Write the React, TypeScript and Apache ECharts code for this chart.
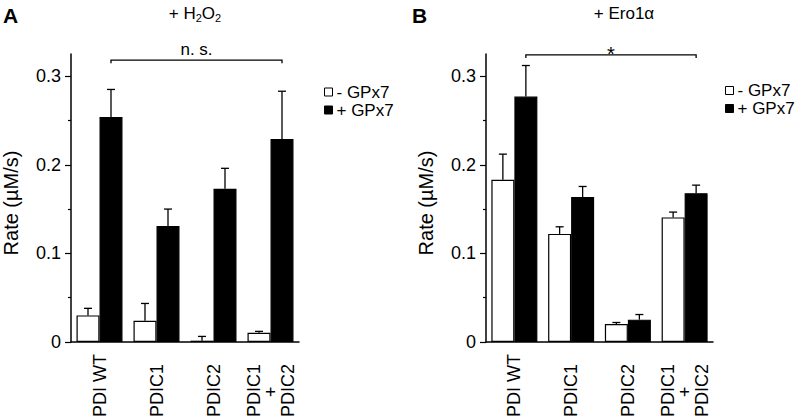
import React, { useEffect, useRef } from "react";
import * as echarts from "echarts";

const categories = ["PDI WT", "PDIC1", "PDIC2", "PDIC1\n+\nPDIC2"];
const seriesNames = ["- GPx7", "+ GPx7"];

// Panel A (+ H2O2)
const aMinus = [0.03, 0.024, 0.0015, 0.0105];
const aMinusErr = [0.008, 0.0195, 0.0048, 0.0015];
const aPlus = [0.254, 0.131, 0.173, 0.229];
const aPlusErr = [0.031, 0.019, 0.023, 0.054];

// Panel B (+ Ero1α)
const bMinus = [0.183, 0.122, 0.0203, 0.1406];
const bMinusErr = [0.029, 0.008, 0.0017, 0.006];
const bPlus = [0.277, 0.1635, 0.0252, 0.168];
const bPlusErr = [0.035, 0.012, 0.0058, 0.009];

const majorTicks = [0, 0.1, 0.2, 0.3];
const minorTicks = [0.05, 0.15, 0.25];
const yMax = 0.325;

// significance brackets: [fromCategory, toCategory, level]
const bracketA = [0, 3, 0.318];
const bracketB = [0, 3, 0.324];

const FONT = "'Liberation Sans', Arial, Helvetica, sans-serif";
const BAR_W = 23;

export default function App() {
  const ref = useRef<HTMLDivElement>(null);
  useEffect(() => {
    if (!ref.current) return;
    const chart = echarts.init(ref.current, null, { renderer: "svg" });

    const grids = [
      { left: 70, top: 54, width: 229, height: 288 },
      { left: 486, top: 54, width: 227, height: 288 },
    ];

    const xAxes = grids.map((_, i) => ({
      type: "category",
      gridIndex: i,
      data: categories,
      boundaryGap: true,
      axisLine: { lineStyle: { color: "#000", width: 1.5 } },
      axisTick: { show: false },
      axisLabel: {
        rotate: 90,
        interval: 0,
        margin: 75,
        align: "left",
        color: "#000",
        fontSize: 18,
        lineHeight: 17,
        fontFamily: FONT,
        // centre the middle "+" line under the longer lines
        formatter: (v: string) =>
          v
            .split("\n")
            .map((l) => (l === "+" ? "    +" : l))
            .join("\n"),
      },
    }));

    const yAxes: any[] = [];
    grids.forEach((_, i) => {
      yAxes.push({
        type: "value",
        gridIndex: i,
        position: "left",
        min: 0,
        max: yMax,
        name: "Rate (µM/s)",
        nameLocation: "middle",
        nameGap: 50,
        nameTextStyle: { fontSize: 20, color: "#000", fontFamily: FONT, padding: [0, 10, 0, 0] },
        axisLine: { show: true, lineStyle: { color: "#000", width: 1.5 } },
        axisTick: {
          show: true,
          length: 6,
          customValues: majorTicks,
          lineStyle: { color: "#000", width: 1.2 },
        },
        axisLabel: {
          customValues: majorTicks,
          margin: 10,
          fontSize: 18,
          color: "#000",
          fontFamily: FONT,
          formatter: (v: number) => (v === 0 ? "0" : v.toFixed(1)),
        },
        splitLine: { show: false },
      });
      yAxes.push({
        type: "value",
        gridIndex: i,
        position: "left",
        min: 0,
        max: yMax,
        axisLine: { show: false },
        axisTick: {
          show: true,
          length: 3,
          customValues: minorTicks,
          lineStyle: { color: "#000", width: 1.2 },
        },
        axisLabel: { show: false },
        splitLine: { show: false },
      });
    });

    const barSeries = (name: string, data: number[], gi: number, white: boolean) => ({
      type: "bar",
      name,
      xAxisIndex: gi,
      yAxisIndex: gi * 2,
      data,
      barWidth: BAR_W,
      barGap: "0%",
      itemStyle: {
        color: white ? "#fff" : "#000",
        borderColor: "#000",
        borderWidth: 1.2,
      },
      z: 2,
    });

    const errSeries = (means: number[], errs: number[], gi: number, offset: number) => ({
      type: "custom",
      xAxisIndex: gi,
      yAxisIndex: gi * 2,
      z: 3,
      silent: true,
      encode: { x: 0, y: [1, 2] },
      data: means.map((m, k) => [k, m, m + errs[k]]),
      renderItem: (params: any, api: any) => {
        const base = api.coord([api.value(0), api.value(1)]);
        const top = api.coord([api.value(0), api.value(2)]);
        const cx = base[0] + offset;
        const st = { stroke: "#000", lineWidth: 1.3 };
        return {
          type: "group",
          children: [
            { type: "line", shape: { x1: cx, y1: base[1], x2: cx, y2: top[1] }, style: st },
            { type: "line", shape: { x1: cx - 4, y1: top[1], x2: cx + 4, y2: top[1] }, style: st },
          ],
        };
      },
    });

    const bracketSeries = (br: number[], gi: number, label: string, size: number, dy: number) => ({
      type: "custom",
      xAxisIndex: gi,
      yAxisIndex: gi * 2,
      z: 4,
      silent: true,
      data: [br],
      renderItem: (params: any, api: any) => {
        const p1 = api.coord([api.value(0), api.value(2)]);
        const p2 = api.coord([api.value(1), api.value(2)]);
        const x1 = p1[0] + BAR_W / 2;
        const x2 = p2[0] + BAR_W / 2;
        const y = p1[1];
        return {
          type: "group",
          children: [
            {
              type: "polyline",
              shape: { points: [[x1, y + 3], [x1, y], [x2, y], [x2, y + 3]] },
              style: { stroke: "#000", lineWidth: 1.3, fill: "none" },
            },
            {
              type: "text",
              style: {
                text: label,
                x: (x1 + x2) / 2,
                y: y + dy,
                align: "center",
                verticalAlign: "bottom",
                fontSize: size,
                fontFamily: FONT,
                fill: "#000",
              },
            },
          ],
        };
      },
    });

    const legendBase = {
      orient: "vertical",
      itemWidth: 8,
      itemHeight: 8,
      itemGap: 1,
      icon: "rect",
      data: seriesNames,
      textStyle: { fontSize: 17, lineHeight: 17, color: "#000", fontFamily: FONT, padding: [0, 0, 0, -1] },
      itemStyle: { borderColor: "#000", borderWidth: 1 },
      selectedMode: false,
    };

    const option: any = {
      animation: false,
      textStyle: { fontFamily: FONT, color: "#000" },
      grid: grids,
      xAxis: xAxes,
      yAxis: yAxes,
      legend: [
        { ...legendBase, left: 319, top: 78.5 },
        { ...legendBase, left: 720, top: 77 },
      ],
      graphic: [
        {
          type: "text",
          x: 3,
          y: 5,
          style: { text: "A", fontSize: 21, fontWeight: "bold", fontFamily: FONT, fill: "#000" },
        },
        {
          type: "text",
          x: 412,
          y: 5,
          style: { text: "B", fontSize: 21, fontWeight: "bold", fontFamily: FONT, fill: "#000" },
        },
        {
          type: "text",
          x: 195,
          y: 3,
          style: {
            text: "+ H{s|2}O{s|2}",
            fontSize: 17,
            lineHeight: 20,
            fontFamily: FONT,
            fill: "#000",
            align: "center",
            verticalAlign: "top",
            rich: {
              s: { fontSize: 11, lineHeight: 12, verticalAlign: "bottom", fontFamily: FONT, fill: "#000" },
            },
          },
        },
        {
          type: "text",
          x: 624,
          y: 3,
          style: {
            text: "+ Ero1α",
            fontSize: 17,
            lineHeight: 20,
            fontFamily: FONT,
            fill: "#000",
            align: "center",
            verticalAlign: "top",
          },
        },
      ],
      series: [
        barSeries(seriesNames[0], aMinus, 0, true),
        barSeries(seriesNames[1], aPlus, 0, false),
        barSeries(seriesNames[0], bMinus, 1, true),
        barSeries(seriesNames[1], bPlus, 1, false),
        errSeries(aMinus, aMinusErr, 0, -BAR_W / 2),
        errSeries(aPlus, aPlusErr, 0, BAR_W / 2),
        errSeries(bMinus, bMinusErr, 1, -BAR_W / 2),
        errSeries(bPlus, bPlusErr, 1, BAR_W / 2),
        bracketSeries(bracketA, 0, "n. s.", 17, -2),
        bracketSeries(bracketB, 1, "*", 20, 9),
      ],
    };
    chart.setOption(option);
    return () => chart.dispose();
  }, []);

  return <div ref={ref} style={{ width: 800, height: 420, position: "absolute", left: 0, top: 0 }} />;
}
